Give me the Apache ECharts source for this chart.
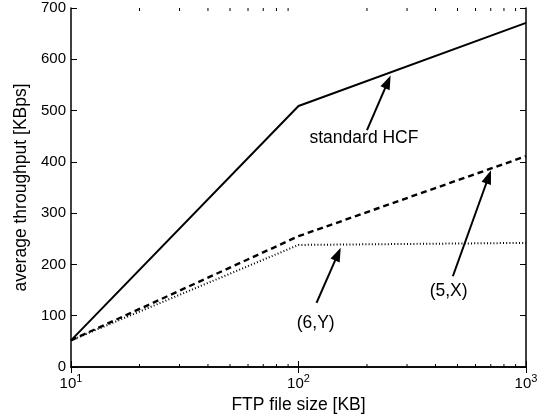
<!DOCTYPE html>
<html>
<head>
<meta charset="utf-8">
<script src="https://cdn.jsdelivr.net/npm/echarts@6/dist/echarts.min.js"></script>
<style>
  html, body { margin: 0; padding: 0; background: #fff; }
  #chart { width: 544px; height: 416px; }
</style>
</head>
<body>
<div id="chart"></div>
<script>
// file sizes (KB)
var fileSize = [10, 100, 1000];
// throughput (KBps)
var hcf = [52, 509, 671];
var fiveX = [52, 255, 411];
var sixY = [52, 238, 242];
// minor tick positions on the log axis
var minorTicks = [20, 30, 40, 50, 60, 70, 80, 90, 200, 300, 400, 500, 600, 700, 800, 900];
// annotations: [tailX, tailY, headX, headY]
var arrowHCF = [200, 462, 247, 556];
var arrow5X = [477, 177, 685, 371];
var arrow6Y = [120, 125, 149, 220];
// label positions: [x, y, text]
var labels = [[194, 446, 'standard HCF'], [457, 148, '(5,X)'], [119, 86, '(6,Y)']];

var FONT = 'Liberation Sans, Arial, sans-serif';
var chart = echarts.init(document.getElementById('chart'));

function pairs(xs, ys) {
  return xs.map(function (x, i) { return [x, ys[i]]; });
}

function arrow(a) {
  return {
    silent: true,
    symbol: ['none', 'path://M0,0 L5,14 L-5,14 Z'],
    symbolSize: 14,
    symbolKeepAspect: true,
    lineStyle: { color: '#000', width: 2, type: 'solid' },
    itemStyle: { color: '#000' },
    label: { show: false },
    data: [[{ coord: [a[0], a[1]] }, { coord: [a[2], a[3]] }]]
  };
}

var supMap = { '10': '1', '100': '2', '1000': '3' };

var option = {
  animation: false,
  grid: { left: 71, right: 18, top: 8, bottom: 49, outerBoundsMode: 'none' },
  xAxis: [{
    type: 'log',
    logBase: 10,
    min: 10,
    max: 1000,
    name: 'FTP file size [KB]',
    nameLocation: 'middle',
    nameGap: 26,
    nameTextStyle: { fontFamily: FONT, fontSize: 17.5, color: '#000' },
    axisLine: { lineStyle: { color: '#000', width: 1.5 } },
    axisTick: { inside: true, length: 6, lineStyle: { color: '#000' } },
    splitLine: { show: false },
    axisLabel: {
      color: '#000',
      fontFamily: FONT,
      margin: 6,
      formatter: function (v) {
        return '{b|10}{s|' + (supMap[String(Math.round(v))] || '') + '}';
      },
      rich: {
        b: { fontSize: 15, fontFamily: FONT, color: '#000' },
        s: { fontSize: 11, fontFamily: FONT, color: '#000', padding: [0, 0, 10, 0] }
      }
    }
  }, {
    type: 'log',
    logBase: 10,
    min: 10,
    max: 1000,
    position: 'top',
    axisLine: { lineStyle: { color: '#000', width: 1.5 } },
    axisTick: { inside: true, length: 6, lineStyle: { color: '#000' } },
    axisLabel: { show: false },
    splitLine: { show: false }
  }],
  yAxis: [{
    type: 'value',
    min: 0,
    max: 700,
    interval: 100,
    name: 'average throughput [KBps]',
    nameLocation: 'middle',
    nameGap: 41,
    nameTextStyle: { fontFamily: FONT, fontSize: 17.5, color: '#000' },
    axisLine: { show: true, lineStyle: { color: '#000', width: 1.5 } },
    axisTick: { show: true, inside: true, length: 6, lineStyle: { color: '#000' } },
    splitLine: { show: false },
    axisLabel: { color: '#000', fontFamily: FONT, fontSize: 15, margin: 5 }
  }, {
    type: 'value',
    min: 0,
    max: 700,
    interval: 100,
    position: 'right',
    axisLine: { show: true, lineStyle: { color: '#000', width: 1.5 } },
    axisTick: { show: true, inside: true, length: 6, lineStyle: { color: '#000' } },
    axisLabel: { show: false },
    splitLine: { show: false }
  }],
  series: [{
    name: 'standard HCF',
    type: 'line',
    data: pairs(fileSize, hcf),
    showSymbol: false,
    lineStyle: { color: '#000', width: 2, type: 'solid' },
    markLine: arrow(arrowHCF),
    z: 3
  }, {
    name: '(5,X)',
    type: 'line',
    data: pairs(fileSize, fiveX),
    showSymbol: false,
    lineStyle: { color: '#000', width: 2.4, type: [6, 4] },
    markLine: arrow(arrow5X),
    z: 3
  }, {
    name: '(6,Y)',
    type: 'line',
    data: pairs(fileSize, sixY),
    showSymbol: false,
    lineStyle: { color: '#000', width: 2, type: [1, 2.2] },
    markLine: arrow(arrow6Y),
    markPoint: {
      silent: true,
      symbol: 'circle',
      symbolSize: 0,
      label: {
        show: true,
        position: 'inside',
        color: '#000',
        fontFamily: FONT,
        fontSize: 17.5,
        formatter: function (p) { return p.name; }
      },
      data: labels.map(function (l) { return { name: l[2], coord: [l[0], l[1]] }; })
    },
    z: 3
  }, {
    // minor ticks of the log axis, drawn at bottom and top
    type: 'custom',
    silent: true,
    data: minorTicks.map(function (v) { return [v, 0]; }),
    renderItem: function (params, api) {
      var bottom = api.coord([api.value(0), 0]);
      var top = api.coord([api.value(0), 700]);
      var st = { stroke: '#000', lineWidth: 1 };
      return {
        type: 'group',
        children: [
          { type: 'line', shape: { x1: bottom[0], y1: bottom[1], x2: bottom[0], y2: bottom[1] - 3 }, style: st },
          { type: 'line', shape: { x1: top[0], y1: top[1], x2: top[0], y2: top[1] + 3 }, style: st }
        ]
      };
    },
    z: 4
  }]
};

chart.setOption(option);
</script>
</body>
</html>
